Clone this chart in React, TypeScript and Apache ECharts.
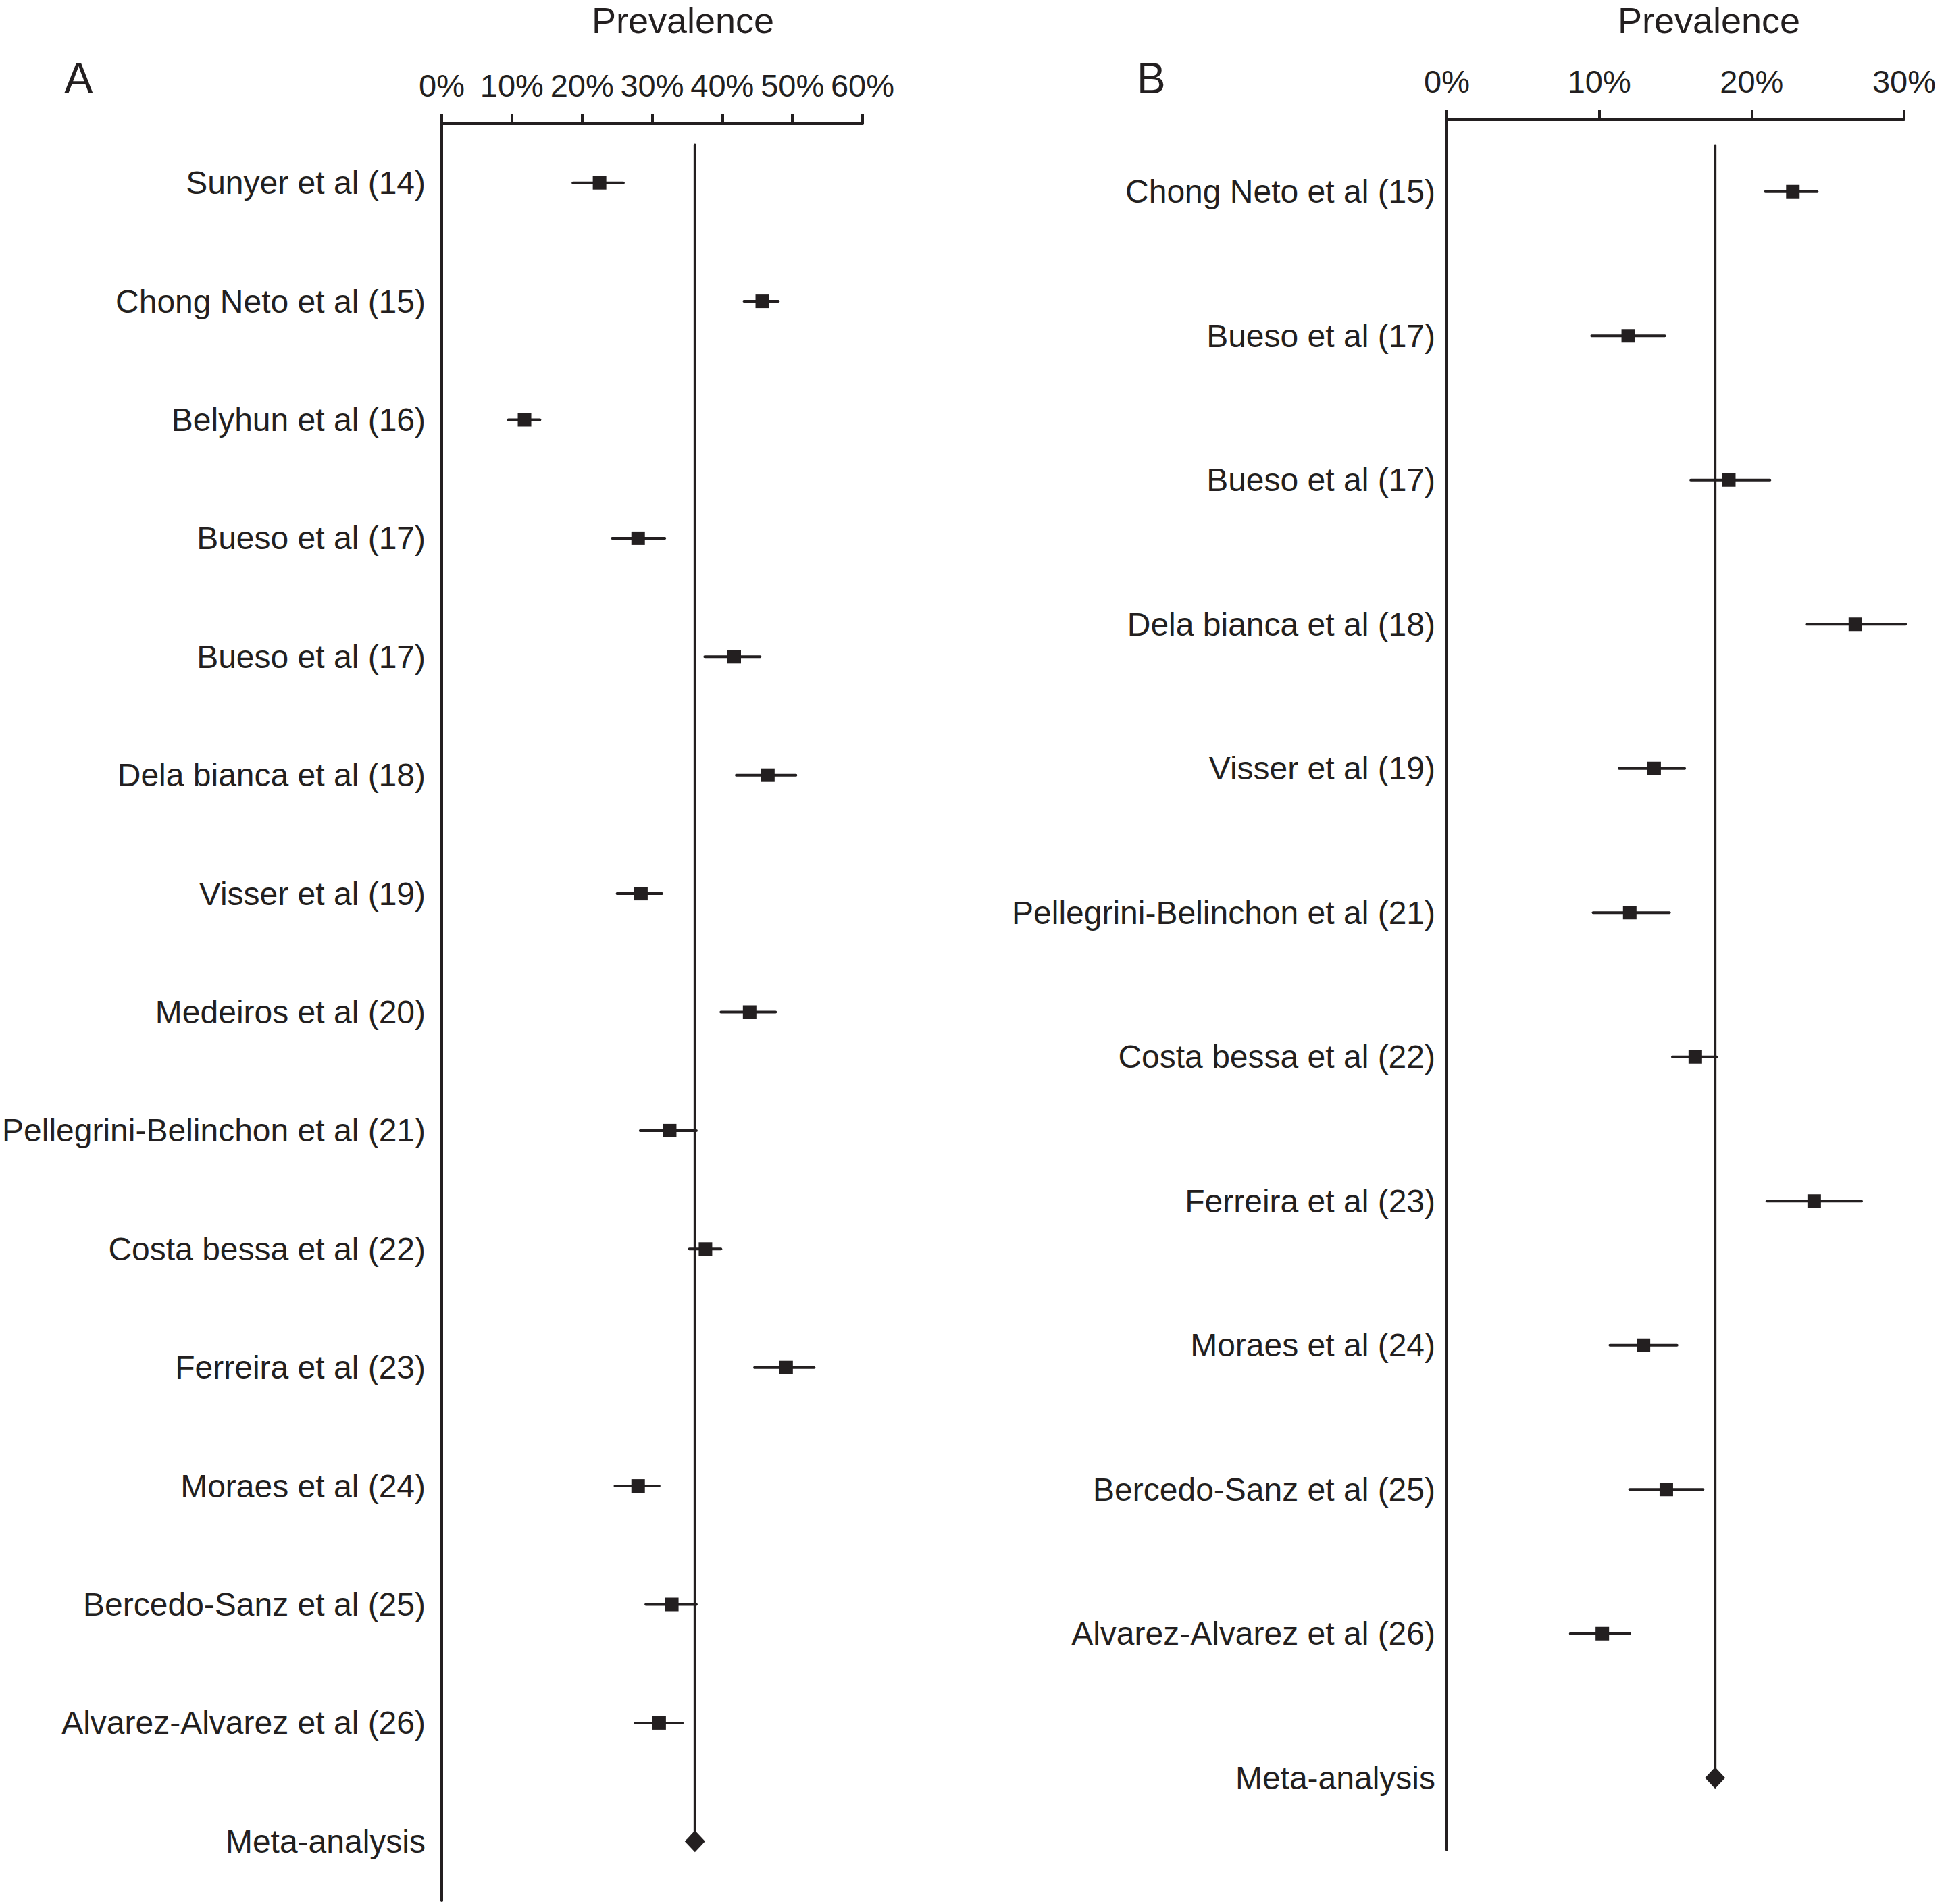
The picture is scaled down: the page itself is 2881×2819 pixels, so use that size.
import React, { useEffect, useRef } from "react";
import * as echarts from "echarts";

const INK = "#231f20";
const FONT = "'Liberation Sans', Arial, Helvetica, sans-serif";

// Panel A
const studiesA = [
  "Sunyer et al (14)",
  "Chong Neto et al (15)",
  "Belyhun et al (16)",
  "Bueso et al (17)",
  "Bueso et al (17)",
  "Dela bianca et al (18)",
  "Visser et al (19)",
  "Medeiros et al (20)",
  "Pellegrini-Belinchon et al (21)",
  "Costa bessa et al (22)",
  "Ferreira et al (23)",
  "Moraes et al (24)",
  "Bercedo-Sanz et al (25)",
  "Alvarez-Alvarez et al (26)",
  "Meta-analysis",
];
const estA = [22.5, 45.7, 11.8, 28.0, 41.7, 46.5, 28.4, 43.9, 32.5, 37.6, 49.1, 28.0, 32.8, 31.0];
const lowA = [18.7, 43.1, 9.5, 24.3, 37.5, 42.0, 25.0, 39.8, 28.3, 35.3, 44.6, 24.7, 29.1, 27.6];
const highA = [25.9, 48.0, 14.0, 31.8, 45.4, 50.5, 31.4, 47.6, 36.3, 39.8, 53.1, 31.0, 36.3, 34.3];
const metaA = 36.1;
const maxA = 60;

// Panel B
const studiesB = [
  "Chong Neto et al (15)",
  "Bueso et al (17)",
  "Bueso et al (17)",
  "Dela bianca et al (18)",
  "Visser et al (19)",
  "Pellegrini-Belinchon et al (21)",
  "Costa bessa et al (22)",
  "Ferreira et al (23)",
  "Moraes et al (24)",
  "Bercedo-Sanz et al (25)",
  "Alvarez-Alvarez et al (26)",
  "Meta-analysis",
];
const estB = [22.7, 11.9, 18.5, 26.8, 13.6, 12.0, 16.3, 24.1, 12.9, 14.4, 10.2];
const lowB = [20.9, 9.5, 16.0, 23.6, 11.3, 9.6, 14.8, 21.0, 10.7, 12.0, 8.1];
const highB = [24.3, 14.3, 21.2, 30.1, 15.6, 14.6, 17.7, 27.2, 15.1, 16.8, 12.0];
const metaB = 17.6;
const maxB = 30;

const axisTitle = "Prevalence";

function xAxisFor(gridIndex: number, max: number) {
  return {
    gridIndex,
    type: "value",
    position: "top",
    min: 0,
    max,
    interval: 10,
    axisLine: { show: true, onZero: false, lineStyle: { color: INK, width: 4 } },
    axisTick: { show: true, inside: false, length: 14, lineStyle: { color: INK, width: 4 } },
    axisLabel: {
      formatter: "{value}%",
      fontSize: 47,
      color: INK,
      fontFamily: FONT,
      margin: 33,
      hideOverlap: false,
    },
    splitLine: { show: false },
  };
}

function yAxisFor(gridIndex: number, labels: string[], margin: number) {
  return {
    gridIndex,
    type: "category",
    inverse: true,
    data: labels,
    axisLine: { show: true, onZero: false, lineStyle: { color: INK, width: 4 } },
    axisTick: { show: false },
    axisLabel: {
      interval: 0,
      fontSize: 48,
      color: INK,
      fontFamily: FONT,
      margin,
      padding: [10, 0, 0, 0],
      formatter: (_v: string, i: number) => labels[i],
    },
    splitLine: { show: false },
  };
}

function panelSeries(idx: number, est: number[], low: number[], high: number[], meta: number, n: number) {
  const metaIdx = n - 1;
  return [
    {
      type: "custom",
      xAxisIndex: idx,
      yAxisIndex: idx,
      data: est.map((_, i) => [low[i], high[i], i]),
      encode: { x: [0, 1], y: 2 },
      renderItem: (_p: any, api: any) => {
        const y = api.value(2);
        const a = api.coord([api.value(0), y]);
        const b = api.coord([api.value(1), y]);
        return {
          type: "line",
          shape: { x1: a[0], y1: a[1], x2: b[0], y2: b[1] },
          style: { stroke: INK, lineWidth: 4, lineCap: "round" },
        };
      },
      z: 2,
    },
    {
      type: "custom",
      xAxisIndex: idx,
      yAxisIndex: idx,
      data: [[meta, 0, metaIdx]],
      encode: { x: 0, y: [1, 2] },
      renderItem: (_p: any, api: any) => {
        const v = api.value(0);
        const top = api.coord([v, api.value(1)]);
        const bot = api.coord([v, api.value(2)]);
        const band = api.size([0, 1])[1];
        return {
          type: "line",
          shape: { x1: top[0], y1: top[1] - 0.32 * band, x2: bot[0], y2: bot[1] },
          style: { stroke: INK, lineWidth: 4, lineCap: "round" },
        };
      },
      z: 1,
    },
    {
      type: "scatter",
      xAxisIndex: idx,
      yAxisIndex: idx,
      data: est.map((v, i) => [v, i]),
      symbol: "rect",
      symbolSize: 20,
      itemStyle: { color: INK, opacity: 1 },
      z: 3,
    },
    {
      type: "scatter",
      xAxisIndex: idx,
      yAxisIndex: idx,
      data: [[meta, metaIdx]],
      symbol: "diamond",
      symbolSize: [30, 32],
      itemStyle: { color: INK, opacity: 1 },
      z: 3,
    },
  ];
}

export default function App() {
  const ref = useRef<HTMLDivElement>(null);

  useEffect(() => {
    document.body.style.margin = "0";
    if (!ref.current) return;
    const chart = echarts.init(ref.current, null, { renderer: "svg" });
    chart.setOption({
      animation: false,
      backgroundColor: "#ffffff",
      grid: [
        { left: 654, top: 183, width: 623, height: 2631 },
        { left: 2142, top: 177, width: 677, height: 2562 },
      ],
      xAxis: [xAxisFor(0, maxA), xAxisFor(1, maxB)],
      yAxis: [yAxisFor(0, studiesA, 24), yAxisFor(1, studiesB, 17)],
      series: [
        ...panelSeries(0, estA, lowA, highA, metaA, studiesA.length),
        ...panelSeries(1, estB, lowB, highB, metaB, studiesB.length),
      ],
      graphic: [
        {
          type: "text",
          x: 95,
          y: 116,
          style: { text: "A", fontSize: 64, fontFamily: FONT, fill: INK, align: "left", verticalAlign: "middle" },
        },
        {
          type: "text",
          x: 1683,
          y: 116,
          style: { text: "B", fontSize: 64, fontFamily: FONT, fill: INK, align: "left", verticalAlign: "middle" },
        },
        {
          type: "text",
          x: 1011,
          y: 30,
          style: { text: axisTitle, fontSize: 54, fontFamily: FONT, fill: INK, align: "center", verticalAlign: "middle" },
        },
        {
          type: "text",
          x: 2530,
          y: 30,
          style: { text: axisTitle, fontSize: 54, fontFamily: FONT, fill: INK, align: "center", verticalAlign: "middle" },
        },
      ],
    });
    return () => chart.dispose();
  }, []);

  return <div ref={ref} style={{ width: 2881, height: 2819 }} />;
}
